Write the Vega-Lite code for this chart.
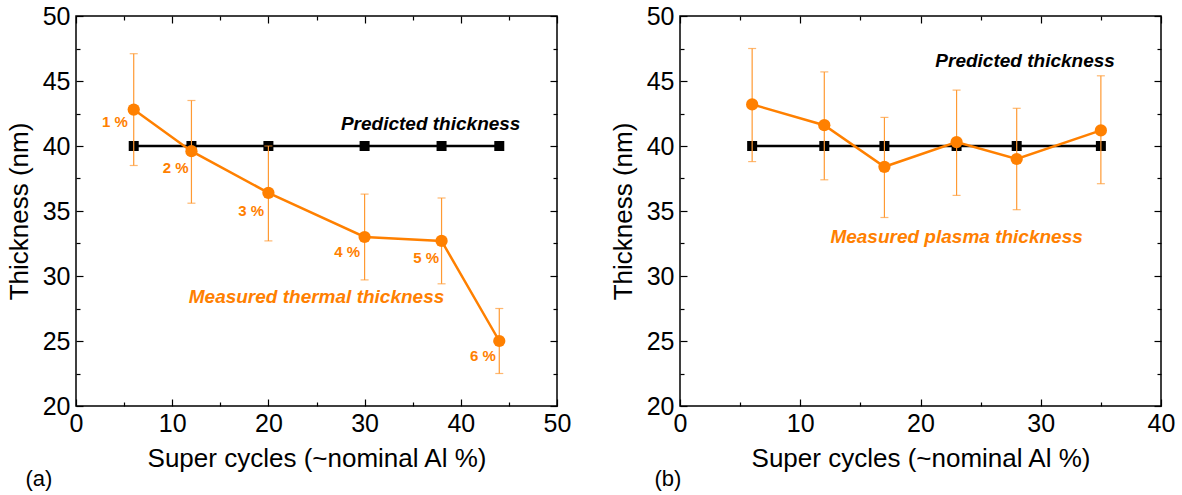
{
  "$schema": "https://vega.github.io/schema/vega-lite/v6.json",
  "background": "white",
  "padding": {"left": 5, "top": 3, "right": 5, "bottom": 5},
  "config": {
    "view": {"stroke": "black", "strokeWidth": 1.5},
    "font": "Liberation Sans",
    "axis": {
      "grid": false,
      "domain": false,
      "labelFlush": false,
      "labelOverlap": false,
      "labelFont": "Liberation Sans",
      "labelFontSize": 25,
      "labelColor": "black",
      "titleFont": "Liberation Sans",
      "titleFontSize": 26,
      "titleFontWeight": "normal",
      "titleColor": "black",
      "tickColor": "black",
      "tickWidth": 1.2
    }
  },
  "datasets": {
    "predL": [
      {"x": 6, "y": 40}, {"x": 12, "y": 40}, {"x": 20, "y": 40},
      {"x": 30, "y": 40}, {"x": 38, "y": 40}, {"x": 44, "y": 40}
    ],
    "measL": [
      {"x": 6, "y": 42.8, "lo": 38.5, "hi": 47.1},
      {"x": 12, "y": 39.6, "lo": 35.6, "hi": 43.5},
      {"x": 20, "y": 36.4, "lo": 32.7, "hi": 40.0},
      {"x": 30, "y": 33.0, "lo": 29.7, "hi": 36.3},
      {"x": 38, "y": 32.7, "lo": 29.4, "hi": 36.0},
      {"x": 44, "y": 25.0, "lo": 22.5, "hi": 27.5}
    ],
    "labL": [
      {"x": 4.05, "y": 41.85, "t": "1 %"},
      {"x": 10.35, "y": 38.3, "t": "2 %"},
      {"x": 18.2, "y": 35.0, "t": "3 %"},
      {"x": 28.2, "y": 31.87, "t": "4 %"},
      {"x": 36.4, "y": 31.4, "t": "5 %"},
      {"x": 42.3, "y": 23.85, "t": "6 %"}
    ],
    "annL": [
      {"x": 36.87, "y": 41.67, "t": "Predicted thickness", "c": "pred"},
      {"x": 25.0, "y": 28.38, "t": "Measured thermal thickness", "c": "meas"}
    ],
    "panL": [{"x": -3.85, "y": 14.38, "t": "(a)"}],
    "predR": [
      {"x": 6, "y": 40}, {"x": 12, "y": 40}, {"x": 17, "y": 40},
      {"x": 23, "y": 40}, {"x": 28, "y": 40}, {"x": 35, "y": 40}
    ],
    "measR": [
      {"x": 6, "y": 43.2, "lo": 38.8, "hi": 47.5},
      {"x": 12, "y": 41.6, "lo": 37.4, "hi": 45.7},
      {"x": 17, "y": 38.4, "lo": 34.5, "hi": 42.2},
      {"x": 23, "y": 40.3, "lo": 36.2, "hi": 44.3},
      {"x": 28, "y": 39.0, "lo": 35.1, "hi": 42.9},
      {"x": 35, "y": 41.2, "lo": 37.1, "hi": 45.4}
    ],
    "annR": [
      {"x": 28.7, "y": 46.54, "t": "Predicted thickness", "c": "pred"},
      {"x": 23.0, "y": 33.0, "t": "Measured plasma thickness", "c": "meas"}
    ],
    "panR": [{"x": -1.0, "y": 14.38, "t": "(b)"}]
  },
  "spacing": 37,
  "hconcat": [
    {
      "width": 481,
      "height": 390,
      "resolve": {"axis": {"x": "independent", "y": "independent"}},
      "layer": [
        {
          "data": {"name": "predL"},
          "mark": {"type": "line", "color": "black", "strokeWidth": 2.5, "point": {"shape": "square", "filled": true, "size": 100, "color": "black", "opacity": 1}},
          "encoding": {
            "x": {"field": "x", "type": "quantitative", "scale": {"domain": [0, 50], "nice": false},
              "axis": {"orient": "bottom", "values": [0, 5, 10, 15, 20, 25, 30, 35, 40, 45, 50], "labelExpr": "datum.value % 10 === 0 ? datum.label : ''", "tickSize": {"condition": {"test": "datum.value % 10 === 0", "value": -7}, "value": -4}, "labelPadding": 12, "title": "Super cycles (~nominal Al %)", "titlePadding": 6}},
            "y": {"field": "y", "type": "quantitative", "scale": {"domain": [20, 50], "nice": false, "zero": false},
              "axis": {"orient": "left", "values": [20, 22.5, 25, 27.5, 30, 32.5, 35, 37.5, 40, 42.5, 45, 47.5, 50], "labelExpr": "datum.value % 5 === 0 ? datum.label : ''", "tickSize": {"condition": {"test": "datum.value % 5 === 0", "value": -7}, "value": -4}, "labelPadding": 13, "title": "Thickness (nm)", "titlePadding": 10}}
          }
        },
        {
          "data": {"name": "measL"},
          "mark": {"type": "rule", "color": "#FF9A33", "strokeWidth": 1.2},
          "encoding": {
            "x": {"field": "x", "type": "quantitative",
              "axis": {"orient": "top", "values": [0, 5, 10, 15, 20, 25, 30, 35, 40, 45, 50], "labels": false, "title": null, "tickSize": {"condition": {"test": "datum.value % 10 === 0", "value": -7}, "value": -4}}},
            "y": {"field": "lo", "type": "quantitative",
              "axis": {"orient": "right", "values": [20, 22.5, 25, 27.5, 30, 32.5, 35, 37.5, 40, 42.5, 45, 47.5, 50], "labels": false, "title": null, "tickSize": {"condition": {"test": "datum.value % 5 === 0", "value": -7}, "value": -4}}},
            "y2": {"field": "hi"}
          }
        },
        {
          "data": {"name": "measL"},
          "transform": [{"fold": ["lo", "hi"], "as": ["k", "v"]}],
          "mark": {"type": "tick", "orient": "horizontal", "color": "#FF9A33", "size": 8, "thickness": 1.2},
          "encoding": {
            "x": {"field": "x", "type": "quantitative", "axis": null},
            "y": {"field": "v", "type": "quantitative", "axis": null}
          }
        },
        {
          "data": {"name": "measL"},
          "mark": {"type": "line", "color": "#FF8000", "strokeWidth": 2.5, "point": {"filled": true, "size": 150, "color": "#FF8000", "opacity": 1}},
          "encoding": {
            "x": {"field": "x", "type": "quantitative", "axis": null},
            "y": {"field": "y", "type": "quantitative", "axis": null}
          }
        },
        {
          "data": {"name": "labL"},
          "mark": {"type": "text", "color": "#FF8000", "fontWeight": "bold", "fontSize": 15, "align": "center", "baseline": "middle"},
          "encoding": {
            "x": {"field": "x", "type": "quantitative", "axis": null},
            "y": {"field": "y", "type": "quantitative", "axis": null},
            "text": {"field": "t"}
          }
        },
        {
          "data": {"name": "annL"},
          "mark": {"type": "text", "fontWeight": "bold", "fontStyle": "italic", "fontSize": 19, "align": "center", "baseline": "middle"},
          "encoding": {
            "x": {"field": "x", "type": "quantitative", "axis": null},
            "y": {"field": "y", "type": "quantitative", "axis": null},
            "text": {"field": "t"},
            "color": {"field": "c", "type": "nominal", "scale": {"domain": ["pred", "meas"], "range": ["black", "#FF8000"]}, "legend": null}
          }
        },
        {
          "data": {"name": "panL"},
          "mark": {"type": "text", "fontSize": 22, "align": "center", "baseline": "middle", "color": "black"},
          "encoding": {
            "x": {"field": "x", "type": "quantitative", "axis": null},
            "y": {"field": "y", "type": "quantitative", "axis": null},
            "text": {"field": "t"}
          }
        }
      ]
    },
    {
      "width": 481,
      "height": 390,
      "resolve": {"axis": {"x": "independent", "y": "independent"}},
      "layer": [
        {
          "data": {"name": "predR"},
          "mark": {"type": "line", "color": "black", "strokeWidth": 2.5, "point": {"shape": "square", "filled": true, "size": 100, "color": "black", "opacity": 1}},
          "encoding": {
            "x": {"field": "x", "type": "quantitative", "scale": {"domain": [0, 40], "nice": false},
              "axis": {"orient": "bottom", "values": [0, 5, 10, 15, 20, 25, 30, 35, 40], "labelExpr": "datum.value % 10 === 0 ? datum.label : ''", "tickSize": {"condition": {"test": "datum.value % 10 === 0", "value": -7}, "value": -4}, "labelPadding": 12, "title": "Super cycles (~nominal Al %)", "titlePadding": 6}},
            "y": {"field": "y", "type": "quantitative", "scale": {"domain": [20, 50], "nice": false, "zero": false},
              "axis": {"orient": "left", "values": [20, 22.5, 25, 27.5, 30, 32.5, 35, 37.5, 40, 42.5, 45, 47.5, 50], "labelExpr": "datum.value % 5 === 0 ? datum.label : ''", "tickSize": {"condition": {"test": "datum.value % 5 === 0", "value": -7}, "value": -4}, "labelPadding": 13, "title": "Thickness (nm)", "titlePadding": 10}}
          }
        },
        {
          "data": {"name": "measR"},
          "mark": {"type": "rule", "color": "#FF9A33", "strokeWidth": 1.2},
          "encoding": {
            "x": {"field": "x", "type": "quantitative",
              "axis": {"orient": "top", "values": [0, 5, 10, 15, 20, 25, 30, 35, 40], "labels": false, "title": null, "tickSize": {"condition": {"test": "datum.value % 10 === 0", "value": -7}, "value": -4}}},
            "y": {"field": "lo", "type": "quantitative",
              "axis": {"orient": "right", "values": [20, 22.5, 25, 27.5, 30, 32.5, 35, 37.5, 40, 42.5, 45, 47.5, 50], "labels": false, "title": null, "tickSize": {"condition": {"test": "datum.value % 5 === 0", "value": -7}, "value": -4}}},
            "y2": {"field": "hi"}
          }
        },
        {
          "data": {"name": "measR"},
          "transform": [{"fold": ["lo", "hi"], "as": ["k", "v"]}],
          "mark": {"type": "tick", "orient": "horizontal", "color": "#FF9A33", "size": 8, "thickness": 1.2},
          "encoding": {
            "x": {"field": "x", "type": "quantitative", "axis": null},
            "y": {"field": "v", "type": "quantitative", "axis": null}
          }
        },
        {
          "data": {"name": "measR"},
          "mark": {"type": "line", "color": "#FF8000", "strokeWidth": 2.5, "point": {"filled": true, "size": 150, "color": "#FF8000", "opacity": 1}},
          "encoding": {
            "x": {"field": "x", "type": "quantitative", "axis": null},
            "y": {"field": "y", "type": "quantitative", "axis": null}
          }
        },
        {
          "data": {"name": "annR"},
          "mark": {"type": "text", "fontWeight": "bold", "fontStyle": "italic", "fontSize": 19, "align": "center", "baseline": "middle"},
          "encoding": {
            "x": {"field": "x", "type": "quantitative", "axis": null},
            "y": {"field": "y", "type": "quantitative", "axis": null},
            "text": {"field": "t"},
            "color": {"field": "c", "type": "nominal", "scale": {"domain": ["pred", "meas"], "range": ["black", "#FF8000"]}, "legend": null}
          }
        },
        {
          "data": {"name": "panR"},
          "mark": {"type": "text", "fontSize": 22, "align": "center", "baseline": "middle", "color": "black"},
          "encoding": {
            "x": {"field": "x", "type": "quantitative", "axis": null},
            "y": {"field": "y", "type": "quantitative", "axis": null},
            "text": {"field": "t"}
          }
        }
      ]
    }
  ]
}
